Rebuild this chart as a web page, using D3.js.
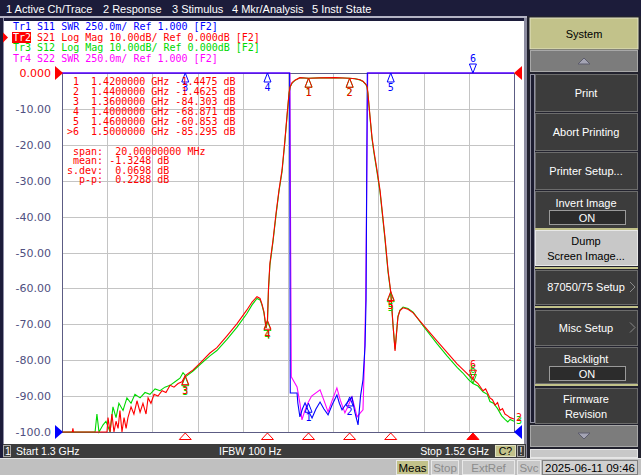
<!DOCTYPE html>
<html>
<head>
<meta charset="utf-8">
<script src="https://cdn.jsdelivr.net/npm/d3@7"></script>
<style>
html, body { margin: 0; padding: 0; background: #1c1c3a; overflow: hidden; }
text { white-space: pre; }
</style>
</head>
<body>
<div id="chart"></div>
<script>
//////////////////////////////////////////////////////////////////////////////
// Data

// S21 (Tr2, log mag, dB)
var s21Freq = [1.3000, 1.3050, 1.3053, 1.3056, 1.3219, 1.3224, 1.3234, 1.3243, 1.3253, 1.3263,
    1.3273, 1.3282, 1.3292, 1.3302, 1.3312, 1.3321, 1.3336, 1.3350, 1.3365, 1.3380,
    1.3394, 1.3409, 1.3419, 1.3433, 1.3448, 1.3467, 1.3487, 1.3506, 1.3526, 1.3545,
    1.3565, 1.3584, 1.3600, 1.3638, 1.3672, 1.3720, 1.3754, 1.3803, 1.3852, 1.3900,
    1.3925, 1.3949, 1.3964, 1.3973, 1.3983, 1.3993, 1.4000, 1.4005, 1.4012, 1.4027,
    1.4042, 1.4056, 1.4071, 1.4085, 1.4095, 1.4105, 1.4110, 1.4120, 1.4134, 1.4158,
    1.4200, 1.4256, 1.4329, 1.4400, 1.4426, 1.4450, 1.4465, 1.4480, 1.4485, 1.4489,
    1.4499, 1.4509, 1.4519, 1.4533, 1.4548, 1.4572, 1.4587, 1.4600, 1.4611, 1.4621,
    1.4626, 1.4635, 1.4645, 1.4660, 1.4684, 1.4709, 1.4757, 1.4825, 1.4874, 1.4923,
    1.4962, 1.5000, 1.5025, 1.5049, 1.5062, 1.5083, 1.5095, 1.5108, 1.5120, 1.5132,
    1.5144, 1.5156, 1.5170, 1.5181, 1.5200];
var s21Db = [-100, -100, -99, -100, -100, -96, -100, -95, -100, -97,
    -99, -94, -100, -96, -99, -96, -93, -95, -91.3, -94.5,
    -92, -95, -90.5, -92, -89.5, -90, -88.5, -89, -87, -87.5,
    -86.5, -86, -84.3, -82.7, -80.8, -78, -76.5, -73.2, -69.8, -66,
    -63.8, -62.3, -62.8, -64.3, -66.5, -71, -68.9, -60, -53, -46.6,
    -39, -32.7, -27, -18.7, -12, -5.6, -3.9, -2.7, -2.0, -1.3,
    -1.4475, -1.35, -1.3, -1.4625, -1.6, -1.9, -2.3, -3.2, -3.9, -5.6,
    -12, -18, -22, -27, -32.7, -45.8, -55, -60.85, -70, -77.4,
    -74, -68, -66.2, -65.4, -65.8, -66.8, -70.1, -74.6, -77.8, -81,
    -83.2, -85.3, -86.5, -88.5, -88, -90.5, -91, -92.5, -91.8, -94,
    -93.5, -95, -95.5, -96, -96.4];

// S12 (Tr3, log mag, dB)
var s12Freq = [1.3000, 1.3161, 1.3170, 1.3180, 1.3200, 1.3214, 1.3234, 1.3248, 1.3263, 1.3277,
    1.3297, 1.3316, 1.3336, 1.3355, 1.3380, 1.3404, 1.3428, 1.3453, 1.3477, 1.3501,
    1.3526, 1.3550, 1.3574, 1.3589, 1.3604, 1.3638, 1.3672, 1.3720, 1.3754, 1.3803,
    1.3852, 1.3900, 1.3925, 1.3949, 1.3964, 1.3973, 1.3983, 1.3993, 1.4000, 1.4005,
    1.4012, 1.4027, 1.4042, 1.4056, 1.4071, 1.4085, 1.4095, 1.4105, 1.4110, 1.4120,
    1.4134, 1.4158, 1.4200, 1.4256, 1.4329, 1.4400, 1.4426, 1.4450, 1.4465, 1.4480,
    1.4485, 1.4489, 1.4499, 1.4509, 1.4519, 1.4533, 1.4548, 1.4572, 1.4587, 1.4600,
    1.4611, 1.4621, 1.4626, 1.4635, 1.4645, 1.4660, 1.4684, 1.4709, 1.4757, 1.4825,
    1.4874, 1.4923, 1.4950, 1.4980, 1.5000, 1.5025, 1.5049, 1.5070, 1.5083, 1.5100,
    1.5120, 1.5140, 1.5156, 1.5170, 1.5181, 1.5200];
var s12Db = [-100, -100, -95, -100, -98, -97, -100, -93, -96, -92,
    -94, -90.5, -92, -89.5, -90.5, -89, -89.5, -88, -88.5, -87.5,
    -87, -86, -85, -83.5, -84.5, -83, -81.2, -78.8, -77.3, -74.2,
    -70.8, -67, -64.6, -62.8, -63.2, -64.6, -66.8, -71, -69.2, -60.5,
    -53.5, -47, -39.5, -33, -27.5, -19, -12.3, -5.8, -4.0, -2.8,
    -2.05, -1.35, -1.46, -1.37, -1.32, -1.48, -1.62, -1.92, -2.35, -3.3,
    -4.0, -5.8, -12.3, -18.4, -22.5, -27.5, -33.2, -46.3, -55.5, -61.2,
    -70.2, -77, -73.8, -67.8, -66, -65.2, -65.6, -66.6, -70.4, -75.4,
    -78.8, -82, -83.5, -85.5, -86.5, -87.2, -88.8, -89.5, -91.5, -92,
    -93.5, -95.5, -96.5, -97.2, -96.5, -97];

// S11 (Tr1, SWR) - out of band it is far off the top of the screen
var s11Freq = [1.3000, 1.4108, 1.4111, 1.4144, 1.4148, 1.4158, 1.4170, 1.4183, 1.4197, 1.4217,
    1.4236, 1.4256, 1.4275, 1.4295, 1.4315, 1.4338, 1.4350, 1.4363, 1.4385, 1.4411,
    1.4425, 1.4441, 1.4453, 1.4465, 1.4475, 1.4480, 1.4486, 1.5200];
var s11Swr = [9, 9, 1.272, 1.272, 1.20, 1.105, 1.16, 1.203, 1.154, 1.098,
    1.16, 1.209, 1.16, 1.119, 1.19, 1.258, 1.20, 1.154, 1.20, 1.244,
    1.14, 1.049, 1.25, 1.363, 1.6, 1.92, 9, 9];

// S22 (Tr4, SWR)
var s22Freq = [1.3000, 1.4109, 1.4116, 1.4144, 1.4158, 1.4168, 1.4180, 1.4192, 1.4215, 1.4256,
    1.4275, 1.4295, 1.4315, 1.4338, 1.4355, 1.4377, 1.4395, 1.4411, 1.4425, 1.4436,
    1.4450, 1.4465, 1.4472, 1.4478, 1.4488, 1.5200];
var s22Swr = [9, 9, 1.384, 1.314, 1.20, 1.084, 1.14, 1.189, 1.25, 1.293,
    1.22, 1.140, 1.22, 1.307, 1.22, 1.133, 1.19, 1.244, 1.17, 1.105,
    1.13, 1.154, 1.5, 1.92, 9, 9];

// markers (same stimulus on every trace, marker 6 active)
var markerNames = ["1", "2", "3", "4", "5", "6"];
var markerFreq = [1.42, 1.44, 1.36, 1.40, 1.46, 1.50];
var markerS21 = [-1.4475, -1.4625, -84.303, -68.871, -60.853, -85.295];
var markerS12 = [-1.46, -1.48, -84.6, -69.2, -61.2, -86.5];
var markerS11 = [1.20, 1.244, 9, 9, 9, 9];
var activeMarker = 5;

var markerRows = [" 1  1.4200000 GHz -1.4475 dB",
    " 2  1.4400000 GHz -1.4625 dB",
    " 3  1.3600000 GHz -84.303 dB",
    " 4  1.4000000 GHz -68.871 dB",
    " 5  1.4600000 GHz -60.853 dB",
    ">6  1.5000000 GHz -85.295 dB"];
var statRows = [" span:  20.00000000 MHz",
    " mean: -1.3248 dB",
    "s.dev:  0.0698 dB",
    "  p-p:  0.2288 dB"];

var traceHeaders = [
    {tr: "Tr1", rest: " S11 SWR 250.0m/ Ref 1.000 [F2]", color: "#0000ff"},
    {tr: "Tr2", rest: " S21 Log Mag 10.00dB/ Ref 0.000dB [F2]", color: "#ff0000"},
    {tr: "Tr3", rest: " S12 Log Mag 10.00dB/ Ref 0.000dB [F2]", color: "#00d800"},
    {tr: "Tr4", rest: " S22 SWR 250.0m/ Ref 1.000 [F2]", color: "#ff00ff"}];

var yTickLabels = ["0.000", "-10.00", "-20.00", "-30.00", "-40.00", "-50.00",
    "-60.00", "-70.00", "-80.00", "-90.00", "-100.0"];
var menuItems = ["1 Active Ch/Trace", "2 Response", "3 Stimulus", "4 Mkr/Analysis", "5 Instr State"];
var softkeyLabels = [["Print"], ["Abort Printing"], ["Printer Setup..."], ["Invert Image"],
    ["Dump", "Screen Image..."], ["87050/75 Setup"], ["Misc Setup"], ["Backlight"],
    ["Firmware", "Revision"]];
var statusItems = ["Meas", "Stop", "ExtRef", "Svc"];
var clockText = "2025-06-11 09:46";

//////////////////////////////////////////////////////////////////////////////
// Globals, scales

var W = 641, H = 475;
var plotL = 62, plotR = 514, plotT = 73, plotB = 432;
var mono = "DejaVu Sans Mono", sans = "Liberation Sans";
var red = "#ff0000", green = "#00d800", blue = "#0000ff", magenta = "#ff00ff";
var slate = "#505080";

var xScale = d3.scaleLinear().domain([1.30, 1.52]).range([plotL, plotR]);
var yDb = d3.scaleLinear().domain([-100, 0]).range([plotB, plotT]).clamp(true);
var ySwr = d3.scaleLinear().domain([1.0, 3.5]).range([plotB, plotT]).clamp(true);

var svg = d3.select("#chart").append("svg")
    .attr("width", W).attr("height", H)
    .style("display", "block");

//////////////////////////////////////////////////////////////////////////////
// Window frame and menu bar

svg.append("rect").attr("width", W).attr("height", H).attr("fill", "#1c1c3a");
svg.append("rect").attr("x", 0).attr("y", 16).attr("width", 530).attr("height", 2).attr("fill", "#b4b4c4");
svg.append("rect").attr("x", 4).attr("y", 21).attr("width", 520).attr("height", 423).attr("fill", "#ffffff");
svg.append("rect").attr("x", 524).attr("y", 18).attr("width", 3).attr("height", 440).attr("fill", "#8c8ca0");
svg.append("rect").attr("x", 3).attr("y", 18).attr("width", 1).attr("height", 426).attr("fill", "#9090a8");

var menuX = [6, 103, 172, 232, 312];
svg.append("g").selectAll("text").data(menuItems).enter().append("text")
    .attr("x", function(d, i) { return menuX[i]; })
    .attr("y", 12.5)
    .attr("fill", "#ffffff")
    .style("font-family", sans).style("font-size", "11px")
    .text(function(d) { return d; });

//////////////////////////////////////////////////////////////////////////////
// Trace header lines

var hdr = svg.append("g").style("font-family", mono).style("font-size", "10px");
var hdrBase = [30, 40.5, 51, 61.5];
hdr.append("rect").attr("x", 12).attr("y", 32).attr("width", 19).attr("height", 11).attr("fill", red);
hdr.append("path").attr("d", "M3,32.5 L8,37.5 L3,42.5 Z").attr("fill", red);
traceHeaders.forEach(function(h, i) {
    var t = hdr.append("text").attr("x", 13).attr("y", hdrBase[i]);
    t.append("tspan").attr("fill", i == 1 ? "#ffffff" : h.color).text(h.tr);
    t.append("tspan").attr("fill", h.color).text(h.rest);
});

//////////////////////////////////////////////////////////////////////////////
// Graticule

var xGrid = d3.range(11).map(function(i) { return 1.30 + i * 0.022; });
var yGrid = d3.range(0, -101, -10);
var grid = svg.append("g").attr("stroke", "#c4c4c4").attr("stroke-width", 1);
grid.selectAll("line.v").data(xGrid.slice(1, 10)).enter().append("line")
    .attr("x1", function(d) { return Math.round(xScale(d)) + 0.5; })
    .attr("x2", function(d) { return Math.round(xScale(d)) + 0.5; })
    .attr("y1", plotT).attr("y2", plotB);
grid.selectAll("line.h").data(yGrid.slice(1, 10)).enter().append("line")
    .attr("x1", plotL).attr("x2", plotR)
    .attr("y1", function(d) { return Math.round(yDb(d)) + 0.5; })
    .attr("y2", function(d) { return Math.round(yDb(d)) + 0.5; });

svg.append("rect")
    .attr("x", plotL + 0.5).attr("y", plotT + 0.5)
    .attr("width", plotR - plotL).attr("height", plotB - plotT)
    .attr("fill", "none").attr("stroke", "#5c5c84").attr("stroke-width", 1);

var yAxis = d3.axisLeft(yDb).tickValues(yGrid)
    .tickFormat(function(d, i) { return yTickLabels[i]; })
    .tickSize(0).tickPadding(11);
var yAxisG = svg.append("g").attr("transform", "translate(" + plotL + ",0)").call(yAxis);
yAxisG.select(".domain").remove();
yAxisG.selectAll("text")
    .style("font-family", "DejaVu Sans").style("font-size", "11px")
    .attr("fill", function(d, i) { return i == 0 ? red : slate; });

//////////////////////////////////////////////////////////////////////////////
// Traces

var dbLine = d3.line().x(function(d) { return xScale(d[0]); }).y(function(d) { return yDb(d[1]); });
var swrLine = d3.line().x(function(d) { return xScale(d[0]); }).y(function(d) { return ySwr(d[1]); });

var traces = svg.append("g").attr("fill", "none").attr("stroke-width", 1.1);
traces.append("path").attr("d", swrLine(d3.zip(s22Freq, s22Swr))).attr("stroke", magenta);
traces.append("path").attr("d", swrLine(d3.zip(s11Freq, s11Swr))).attr("stroke", blue);
traces.append("path").attr("d", dbLine(d3.zip(s12Freq, s12Db))).attr("stroke", green);
traces.append("path").attr("d", dbLine(d3.zip(s21Freq, s21Db))).attr("stroke", red);

// trace number tags at the right end
svg.append("text").attr("x", 516).attr("y", 424).attr("fill", green)
    .style("font-family", mono).style("font-size", "10px").text("3");
svg.append("text").attr("x", 516).attr("y", 421).attr("fill", red)
    .style("font-family", mono).style("font-size", "10px").text("2");

//////////////////////////////////////////////////////////////////////////////
// Markers

function drawMarker(g, px, py, label, color, active) {
    if (active) {
        g.append("path")
            .attr("d", "M" + px + "," + py + " L" + (px - 3.5) + "," + (py - 9) + " L" + (px + 3.5) + "," + (py - 9) + " Z")
            .attr("fill", "none").attr("stroke", color);
        g.append("text").attr("x", px).attr("y", py - 11).attr("fill", color)
            .attr("text-anchor", "middle").text(label);
    } else {
        g.append("path")
            .attr("d", "M" + px + "," + py + " L" + (px - 3.5) + "," + (py + 9) + " L" + (px + 3.5) + "," + (py + 9) + " Z")
            .attr("fill", "none").attr("stroke", color);
        g.append("text").attr("x", px).attr("y", py + 18).attr("fill", color)
            .attr("text-anchor", "middle").text(label);
    }
}

var mk = svg.append("g").style("font-family", mono).style("font-size", "10px").attr("stroke-width", 1);
markerFreq.forEach(function(f, i) {
    drawMarker(mk, xScale(f), ySwr(markerS11[i]), markerNames[i], blue, i == activeMarker);
});
markerFreq.forEach(function(f, i) {
    drawMarker(mk, xScale(f), yDb(markerS12[i]), markerNames[i], green, i == activeMarker);
});
markerFreq.forEach(function(f, i) {
    drawMarker(mk, xScale(f), yDb(markerS21[i]), markerNames[i], red, i == activeMarker);
});

// marker readout table
var tbl = svg.append("g").style("font-family", mono).style("font-size", "10px").attr("fill", red);
tbl.selectAll("text.row").data(markerRows).enter().append("text")
    .attr("x", 67).attr("y", function(d, i) { return 84.5 + i * 10; })
    .text(function(d) { return d; });
tbl.selectAll("text.stat").data(statRows).enter().append("text")
    .attr("x", 67).attr("y", function(d, i) { return 154.5 + i * 9.5; })
    .text(function(d) { return d; });

// reference position arrows
svg.append("path").attr("d", "M55,66 L63," + plotT + " L55,80 Z").attr("fill", red);
svg.append("path").attr("d", "M522,66 L514," + plotT + " L522,80 Z").attr("fill", red);
svg.append("path").attr("d", "M55,425 L63," + plotB + " L55,439 Z").attr("fill", blue);
svg.append("path").attr("d", "M522,425 L514," + plotB + " L522,439 Z").attr("fill", blue);

// stimulus marker row under the graticule
svg.append("g").selectAll("path").data(markerFreq).enter().append("path")
    .attr("d", function(f) {
        var px = xScale(f);
        return "M" + px + ",433 L" + (px - 6) + ",439.5 L" + (px + 6) + ",439.5 Z";
    })
    .attr("fill", function(f, i) { return i == activeMarker ? red : "none"; })
    .attr("stroke", red).attr("stroke-width", 1);

//////////////////////////////////////////////////////////////////////////////
// Channel status bar

svg.append("rect").attr("x", 3).attr("y", 444).attr("width", 523).attr("height", 14).attr("fill", "#3c3c3c");
svg.append("rect").attr("x", 3.5).attr("y", 445.5).attr("width", 7).attr("height", 11)
    .attr("fill", "#3c3c3c").attr("stroke", "#a8a8a8");
var sb = svg.append("g").style("font-family", sans).style("font-size", "10.5px").attr("fill", "#ffffff");
sb.append("text").attr("x", 5).attr("y", 455).text("1");
sb.append("text").attr("x", 16).attr("y", 455).text("Start 1.3 GHz");
sb.append("text").attr("x", 219).attr("y", 455).text("IFBW 100 Hz");
sb.append("text").attr("x", 489).attr("y", 455).attr("text-anchor", "end").text("Stop 1.52 GHz");
svg.append("rect").attr("x", 495.5).attr("y", 445.5).attr("width", 20).attr("height", 11)
    .attr("fill", "#c2c28a").attr("stroke", "#e0e0c0");
svg.append("text").attr("x", 505.5).attr("y", 455).attr("text-anchor", "middle").attr("fill", "#000000")
    .style("font-family", sans).style("font-size", "10.5px").text("C?");
svg.append("rect").attr("x", 517.5).attr("y", 445.5).attr("width", 7).attr("height", 11)
    .attr("fill", "#3c3c3c").attr("stroke", "#a8a8a8");
svg.append("text").attr("x", 521).attr("y", 455).attr("text-anchor", "middle").attr("fill", "#ffffff")
    .style("font-family", sans).style("font-size", "10.5px").text("!");

//////////////////////////////////////////////////////////////////////////////
// Softkey panel

var panel = svg.append("g").style("font-family", sans).style("font-size", "11px");
panel.append("rect").attr("x", 527).attr("y", 16).attr("width", 114).attr("height", 443).attr("fill", "#22222e");

panel.append("rect").attr("x", 530).attr("y", 18).attr("width", 108).attr("height", 31)
    .attr("fill", "#c2c28a").attr("stroke", "#e4e4c4");
panel.append("text").attr("x", 584).attr("y", 38).attr("text-anchor", "middle").attr("fill", "#000000").text("System");

function arrowButton(y0, up) {
    panel.append("rect").attr("x", 530.5).attr("y", y0 + 0.5).attr("width", 107).attr("height", 21)
        .attr("fill", "#7c7c7c").attr("stroke", "#a8a8a8");
    var cy = y0 + 11;
    var d = up ? "M578," + (cy + 3) + " L590," + (cy + 3) + " L584," + (cy - 3) + " Z"
               : "M578," + (cy - 3) + " L590," + (cy - 3) + " L584," + (cy + 3) + " Z";
    panel.append("path").attr("d", d).attr("fill", "#a4a4b4").attr("stroke", "#5c5c6c");
}
arrowButton(50, true);
arrowButton(425, false);

// scroll strip left of softkeys
panel.append("rect").attr("x", 530.5).attr("y", 74.5).attr("width", 4).attr("height", 348)
    .attr("fill", "#1c1c30").attr("stroke", "#9090a0");

var keyTop = [74, 113, 152, 191, 230, 270, 310, 347, 388];
var keyBot = [111, 150, 189, 228, 265, 304, 345, 383, 423];
var keyOn = [false, false, false, true, false, false, false, true, false];
var keyArrow = [false, false, false, false, false, true, true, false, false];
var keyLight = 4;
softkeyLabels.forEach(function(lines, i) {
    var y0 = keyTop[i], y1 = keyBot[i];
    var light = i == keyLight;
    panel.append("rect").attr("x", 535.5).attr("y", y0 + 0.5).attr("width", 102).attr("height", y1 - y0)
        .attr("fill", light ? "#c8c8c8" : "#3c3c3c").attr("stroke", light ? "#e8e8e8" : "#6c6c6c");
    var col = light ? "#000000" : "#ffffff";
    var mid = (y0 + y1) / 2;
    if (keyOn[i]) {
        panel.append("text").attr("x", 586).attr("y", y0 + 16).attr("text-anchor", "middle").attr("fill", col).text(lines[0]);
        panel.append("rect").attr("x", 549.5).attr("y", y0 + 19.5).attr("width", 76).attr("height", 14)
            .attr("fill", "#2c2c2c").attr("stroke", "#9a9a9a");
        panel.append("text").attr("x", 587).attr("y", y0 + 31).attr("text-anchor", "middle").attr("fill", col).text("ON");
    } else if (lines.length == 2) {
        panel.append("text").attr("x", 586).attr("y", mid - 3).attr("text-anchor", "middle").attr("fill", col).text(lines[0]);
        panel.append("text").attr("x", 586).attr("y", mid + 12).attr("text-anchor", "middle").attr("fill", col).text(lines[1]);
    } else {
        panel.append("text").attr("x", 586).attr("y", mid + 4).attr("text-anchor", "middle").attr("fill", col).text(lines[0]);
    }
    if (keyArrow[i]) {
        panel.append("path").attr("d", "M630," + (mid - 5) + " L635," + mid + " L630," + (mid + 5))
            .attr("fill", "none").attr("stroke", "#8a8a8a");
    }
});
[229, 268, 307, 385].forEach(function(y) {
    panel.append("rect").attr("x", 535).attr("y", y - 1).attr("width", 103).attr("height", 2).attr("fill", "#c2c28a");
});
panel.append("rect").attr("x", 530.5).attr("y", 449.5).attr("width", 107).attr("height", 8)
    .attr("fill", "#c8c8c8").attr("stroke", "#e6e6e6");

//////////////////////////////////////////////////////////////////////////////
// Bottom status line

var foot = svg.append("g").style("font-family", sans).style("font-size", "11.5px");
foot.append("rect").attr("x", 0).attr("y", 458).attr("width", W).attr("height", 17).attr("fill", "#c0c0c0");
foot.append("rect").attr("x", 0).attr("y", 458).attr("width", W).attr("height", 1).attr("fill", "#e4e4e4");
var footX0 = [396, 431, 462, 517];
var footX1 = [429, 459, 515, 541];
statusItems.forEach(function(s, i) {
    foot.append("rect").attr("x", footX0[i] + 0.5).attr("y", 460.5)
        .attr("width", footX1[i] - footX0[i] - 1).attr("height", 14)
        .attr("fill", i == 0 ? "#c2c28a" : "#c8c8c8").attr("stroke", "#e8e8e8");
    foot.append("text").attr("x", (footX0[i] + footX1[i]) / 2).attr("y", 472)
        .attr("text-anchor", "middle").attr("fill", i == 0 ? "#000000" : "#8c8c8c").text(s);
});
foot.append("rect").attr("x", 542.5).attr("y", 460.5).attr("width", 95).attr("height", 14)
    .attr("fill", "#d0d0d0").attr("stroke", "#808080");
foot.append("text").attr("x", 590).attr("y", 472).attr("text-anchor", "middle").attr("fill", "#000000").text(clockText);
</script>
</body>
</html>
